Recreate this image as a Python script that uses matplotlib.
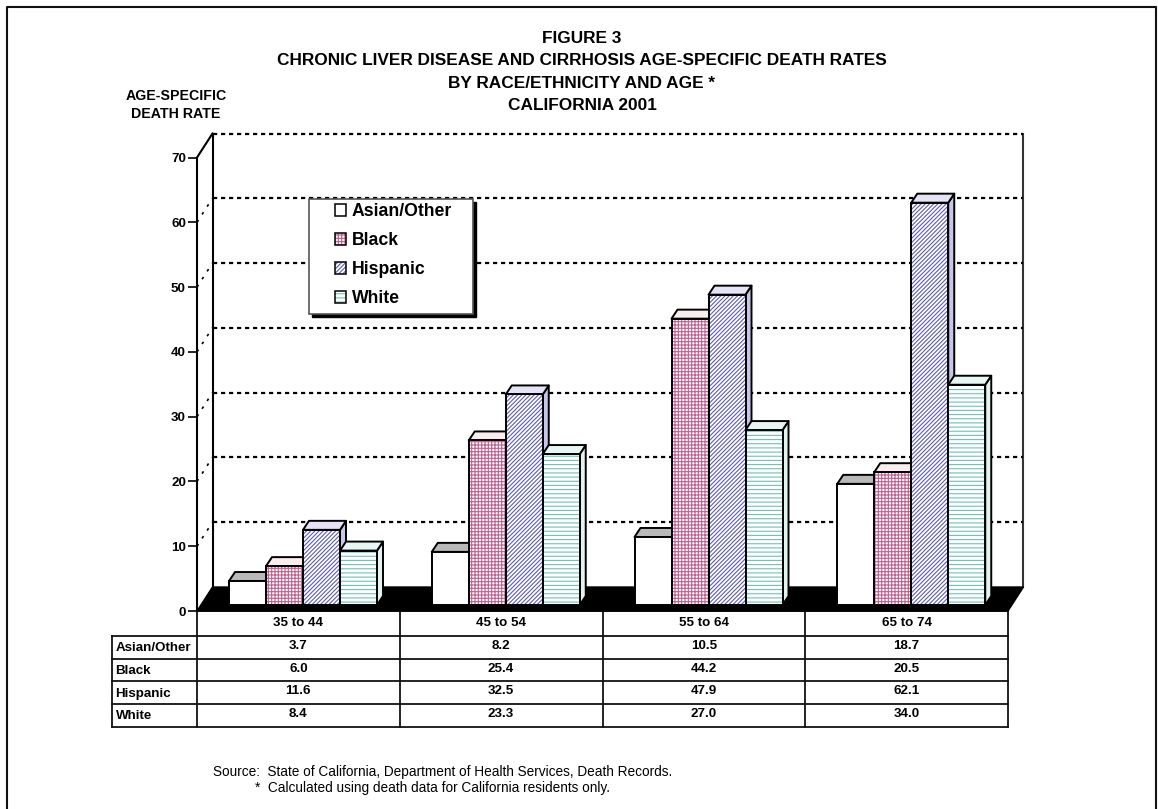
import matplotlib
matplotlib.use("Agg")
import matplotlib.pyplot as plt
from matplotlib.patches import Polygon, Rectangle, Patch
from matplotlib.legend_handler import HandlerTuple

plt.rcParams['font.family'] = ['Liberation Sans', 'DejaVu Sans']
plt.rcParams['hatch.linewidth'] = 0.8

# ---- data ----
age_groups = ["35 to 44", "45 to 54", "55 to 64", "65 to 74"]
races = ["Asian/Other", "Black", "Hispanic", "White"]
asian = [3.7, 8.2, 10.5, 18.7]
black = [6.0, 25.4, 44.2, 20.5]
hispanic = [11.6, 32.5, 47.9, 62.1]
white = [8.4, 23.3, 27.0, 34.0]
y_ticks = [0, 10, 20, 30, 40, 50, 60, 70]
title_lines = ["FIGURE 3",
               "CHRONIC LIVER DISEASE AND CIRRHOSIS AGE-SPECIFIC DEATH RATES",
               "BY RACE/ETHNICITY AND AGE *",
               "CALIFORNIA 2001"]

series = [asian, black, hispanic, white]
hatches = [None, '+++++', '////////', '----']
hatch_cols = ['black', '#c0608f', '#5c5cb8', '#6fc0b8']
top_cols = ['#b9b9b9', '#f8eeee', '#e4e4f6', '#e6f6f2']
side_cols = ['#9a9a9a', '#f0d8e0', '#c6c6e8', '#e2f4f0']

W, H = 1158, 809
fig = plt.figure(figsize=(W / 100, H / 100), dpi=100, facecolor='white')

# pixel-coordinate layer for frame, titles and table
pix = fig.add_axes([0, 0, 1, 1])
pix.set_xlim(0, W)
pix.set_ylim(H, 0)
pix.axis('off')

# chart axes
X0, X1, Y0, Y70 = 197, 1008, 611, 157.5
ax = fig.add_axes([X0 / W, 1 - Y0 / H, (X1 - X0) / W, (Y0 - Y70) / H])
ax.patch.set_alpha(0)
ax.set_xlim(0, 4)
ax.set_ylim(0, 70)
ux = (X1 - X0) / 4          # pixels per category
uy = (Y0 - Y70) / 70        # pixels per unit

# wall depth
wdx, wdy = 15.5 / ux, 24 / uy
# floor
ax.add_patch(Polygon([(0, 0), (4, 0), (4 + wdx, wdy), (wdx, wdy)], closed=True,
                     fc='black', ec='black', lw=1, clip_on=False, zorder=2))
# walls
ax.plot([wdx, wdx], [wdy, 70 + wdy], color='black', lw=1.5, clip_on=False, zorder=1)
ax.plot([4 + wdx, 4 + wdx], [wdy, 70 + wdy], color='#333333', lw=1.5, clip_on=False, zorder=1)
ax.plot([0, wdx], [70, 70 + wdy], color='black', lw=1.5, clip_on=False, zorder=1)
for v in y_ticks[1:]:
    ax.plot([wdx, 4 + wdx], [v + wdy, v + wdy], color='black', lw=1.6,
            dashes=(1.9, 1.7), clip_on=False, zorder=1)
for v in y_ticks[1:-1]:
    ax.plot([0, wdx], [v, v + wdy], color='black', lw=1.2,
            dashes=(1.6, 4), clip_on=False, zorder=1)

# bars
bw = 37 / ux
base = 6 / uy
start = 32 / ux
dx, dy = 6 / ux, 9 / uy
z = 3.0
for c in range(len(age_groups)):
    for s, vals in enumerate(series):
        x = c + start + s * bw
        top = base + vals[c]
        ax.add_patch(Polygon([(x + bw, base), (x + bw + dx, base + dy),
                              (x + bw + dx, top + dy), (x + bw, top)], closed=True,
                             fc=side_cols[s], ec='black', lw=1.4, clip_on=False,
                             zorder=z, joinstyle='round'))
        ax.add_patch(Polygon([(x, top), (x + bw, top), (x + bw + dx, top + dy),
                              (x + dx, top + dy)], closed=True,
                             fc=top_cols[s], ec='black', lw=1.4, clip_on=False,
                             zorder=z, joinstyle='round'))
        if hatches[s]:
            ax.bar(x, vals[c], bw, bottom=base, align='edge', facecolor='white',
                   edgecolor=hatch_cols[s], hatch=hatches[s], lw=0,
                   clip_on=False, zorder=z + 0.1)
        else:
            ax.bar(x, vals[c], bw, bottom=base, align='edge', facecolor='white',
                   lw=0, clip_on=False, zorder=z + 0.1)
        ax.bar(x, vals[c], bw, bottom=base, align='edge', fill=False,
               edgecolor='black', lw=1.4, clip_on=False, zorder=z + 0.2)
        z += 0.5

# axes furniture
ax.set_xlim(0, 4)
ax.set_ylim(0, 70)
ax.set_xticks([])
ax.set_yticks(y_ticks)
ax.tick_params(axis='y', length=6.5, width=1.2, pad=1.5, labelsize=9.6)
for lab in ax.get_yticklabels():
    lab.set_fontweight('bold')
for sp in ['top', 'right', 'bottom']:
    ax.spines[sp].set_visible(False)
ax.spines['left'].set_linewidth(1.5)

# outer frame: open at the bottom
pix.plot([7, 7, 1156, 1156], [H, 6.5, 6.5, H], color='#111111', lw=1.5, clip_on=False)

# titles
for txt, yy in zip(title_lines, [38, 60.5, 83, 105]):
    pix.text(582, yy, txt, ha='center', va='center', fontsize=12.4, fontweight='bold')
pix.text(176, 96, "AGE-SPECIFIC", ha='center', va='center', fontsize=10.2, fontweight='bold')
pix.text(176, 114, "DEATH RATE", ha='center', va='center', fontsize=10.2, fontweight='bold')

# table
row_y = [611, 635.5, 658.5, 681, 704, 726.5]
col_x = [X0 + i * ux for i in range(len(age_groups) + 1)]
LBL = 112
for i, yy in enumerate(row_y):
    pix.plot([X0 if i == 0 else LBL, X1], [yy, yy], color='#111111', lw=1.3)
for xx in col_x:
    pix.plot([xx, xx], [row_y[0], row_y[-1]], color='#111111', lw=1.3)
pix.plot([LBL, LBL], [row_y[1], row_y[-1]], color='#111111', lw=1.3)
for c, name in enumerate(age_groups):
    pix.text(col_x[c] + ux / 2, (row_y[0] + row_y[1]) / 2, name, ha='center', va='center',
             fontsize=9.6, fontweight='bold')
for r, name in enumerate(races):
    yc = (row_y[r + 1] + row_y[r + 2]) / 2
    pix.text(LBL + 3.5, yc + 1, name, ha='left', va='center', fontsize=9.6, fontweight='bold')
    for c in range(len(age_groups)):
        pix.text(col_x[c] + ux / 2, yc - 1, f"{series[r][c]:.1f}", ha='center', va='center',
                 fontsize=9.6, fontweight='bold')

# source notes
pix.text(213, 772, "Source:  State of California, Department of Health Services, Death Records.",
         ha='left', va='center', fontsize=9.8)
pix.text(255, 788, "*  Calculated using death data for California residents only.",
         ha='left', va='center', fontsize=9.8)

# legend box with hard shadow, drawn over the chart
ax.add_patch(Rectangle((312, 202), 164, 115, transform=pix.transData, fc='black', ec='black',
                       lw=1, clip_on=False, zorder=40))
ax.add_patch(Rectangle((309, 199), 164, 115, transform=pix.transData, fc='white', ec='#555555',
                       lw=1.2, clip_on=False, zorder=41))
handles = [(Patch(facecolor='white', edgecolor=hatch_cols[i], hatch=hatches[i], lw=0),
            Patch(fill=False, edgecolor='black', lw=1.1)) for i in range(4)]
leg = ax.legend(handles, races, loc='upper left', bbox_to_anchor=(335, 203),
                bbox_transform=pix.transData, frameon=False, borderpad=0, borderaxespad=0,
                prop={'weight': 'bold', 'size': 12.7},
                handler_map={tuple: HandlerTuple(ndivide=1, pad=0)},
                handlelength=0.65, handleheight=0.65, handletextpad=0.3, labelspacing=0.68)
leg.set_zorder(42)

fig.savefig('out.png', dpi=100, facecolor='white')
